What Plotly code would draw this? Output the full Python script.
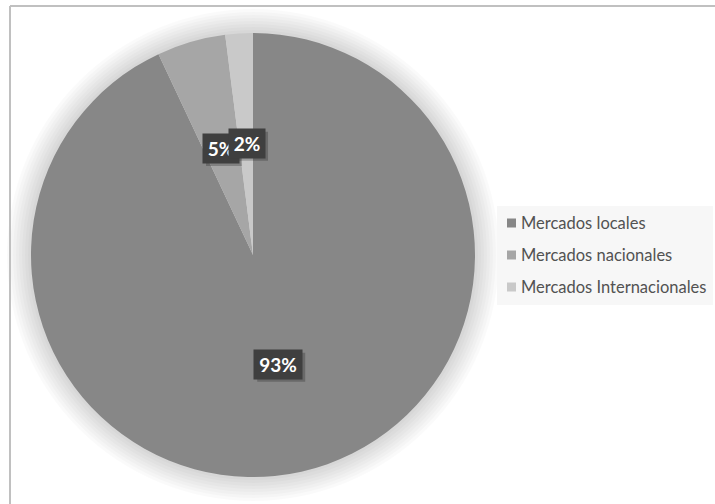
import math
import plotly.graph_objects as go

# Distribución de ventas por mercado
labels = ["Mercados locales", "Mercados nacionales", "Mercados Internacionales"]
values = [93, 5, 2]
colors = ["#878787", "#a6a6a6", "#c9c9c9"]

W, H = 715, 504
CX, CY, R = 253, 255, 222          # pie centre / radius in pixels (from top-left)


def px_x(x):
    return x / W


def px_y(y):
    return 1 - y / H


fig = go.Figure()
fig.add_trace(go.Pie(
    labels=labels,
    values=values,
    marker=dict(colors=colors, line=dict(width=0)),
    sort=False,
    direction="clockwise",
    rotation=0,
    textinfo="none",
    hoverinfo="label+percent",
    showlegend=False,
    domain=dict(x=[px_x(CX - R), px_x(CX + R)], y=[px_y(CY + R), px_y(CY - R)]),
))

shapes = []
# soft outer shadow around the pie
for k in range(1, 9):
    rr = R + k * 3
    shapes.append(dict(type="circle", xref="paper", yref="paper",
                       x0=px_x(CX - rr), x1=px_x(CX + rr),
                       y0=px_y(CY + rr), y1=px_y(CY - rr),
                       fillcolor="rgba(0,0,0,0.018)", line=dict(width=0),
                       layer="below"))

# chart frame (left and top edges)
shapes.append(dict(type="line", xref="paper", yref="paper",
                   x0=px_x(10), x1=px_x(W), y0=px_y(6), y1=px_y(6),
                   line=dict(color="#c0c0c0", width=2)))
shapes.append(dict(type="line", xref="paper", yref="paper",
                   x0=px_x(10), x1=px_x(10), y0=px_y(6), y1=0,
                   line=dict(color="#c0c0c0", width=2)))

# legend panel
LX, LY0, LY1 = 497, 206, 305
shapes.append(dict(type="rect", xref="paper", yref="paper",
                   x0=px_x(LX), x1=px_x(713), y0=px_y(LY1), y1=px_y(LY0),
                   fillcolor="#f7f7f7", line=dict(width=0), layer="below"))

annotations = []
row0, gap = 223, 32
for i, (lab, col) in enumerate(zip(labels, colors)):
    yy = row0 + i * gap
    shapes.append(dict(type="rect", xref="paper", yref="paper",
                       x0=px_x(507), x1=px_x(516), y0=px_y(yy + 4.5), y1=px_y(yy - 4.5),
                       fillcolor=col, line=dict(width=0)))
    annotations.append(dict(xref="paper", yref="paper", x=px_x(519), y=px_y(yy),
                            text=lab, showarrow=False, xanchor="left", yanchor="middle",
                            font=dict(family="Lato", size=16.5, color="#525252")))

# percentage labels on the slices (mid-angle, half radius)
total = sum(values)
cum = 0
offsets = [(1, 1), (-1, 0), (1, -1)]
for v, (dx, dy) in zip(values, offsets):
    mid = (cum + v / 2) / total * 2 * math.pi
    cum += v
    lx = CX + 0.5 * R * math.sin(mid) + dx
    ly = CY - 0.5 * R * math.cos(mid) + dy
    pct = f"{round(v / total * 100)}%"
    bw, bh = 12 * len(pct) + 12, 29
    # drop shadow behind the label box
    shapes.append(dict(type="rect", xref="paper", yref="paper",
                       x0=px_x(lx - bw / 2 + 3), x1=px_x(lx + bw / 2 + 3),
                       y0=px_y(ly + bh / 2 + 3), y1=px_y(ly - bh / 2 + 3),
                       fillcolor="rgba(0,0,0,0.22)", line=dict(width=0)))
    annotations.append(dict(xref="paper", yref="paper", x=px_x(lx), y=px_y(ly),
                            xanchor="center", yanchor="middle",
                            width=bw, height=bh, borderpad=0,
                            text=f"<b>{pct}</b>", showarrow=False,
                            font=dict(family="Lato", size=19, color="white"),
                            bgcolor="#3f3f3f"))

fig.update_layout(
    width=W, height=H,
    margin=dict(l=0, r=0, t=0, b=0),
    paper_bgcolor="white",
    shapes=shapes,
    annotations=annotations,
)

fig.write_html("out.html")
